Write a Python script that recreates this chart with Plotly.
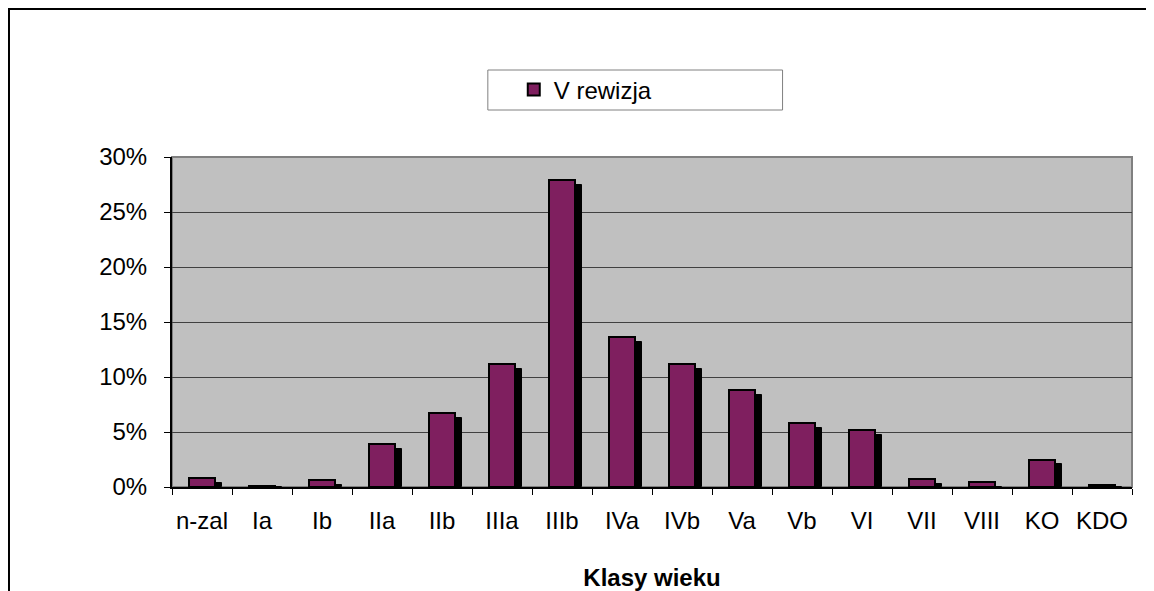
import plotly.graph_objects as go

# age classes and share of area (%)
CLASSES = ["n-zal", "Ia", "Ib", "IIa", "IIb", "IIIa", "IIIb", "IVa",
           "IVb", "Va", "Vb", "VI", "VII", "VIII", "KO", "KDO"]
SHARE = [0.8, 0.05, 0.65, 3.9, 6.7, 11.15, 27.9, 13.6,
         11.15, 8.8, 5.8, 5.2, 0.7, 0.43, 2.5, 0.15]
Y_TICKS = [0, 5, 10, 15, 20, 25, 30]
SERIES = "V rewizja"

FONT = "Liberation Sans, Arial, sans-serif"
BAR = "#7f1f5f"
BAR_W = 0.42        # in category units (60px per category)
SHADOW_DX = 0.115   # shadow shift right, category units
SHADOW_DY = 0.45    # shadow drop, in % units

fig = go.Figure()
# black drop shadow behind each bar
fig.add_trace(go.Bar(x=CLASSES, y=[max(v - SHADOW_DY, 0) for v in SHARE],
                     width=BAR_W, offset=-BAR_W / 2 + SHADOW_DX,
                     marker=dict(color="black", line=dict(color="black", width=1)),
                     showlegend=False, hoverinfo="skip"))
fig.add_trace(go.Bar(x=CLASSES, y=SHARE, name=SERIES,
                     width=BAR_W, offset=-BAR_W / 2,
                     marker=dict(color=BAR, line=dict(color="black", width=2)),
                     hovertemplate="%{x}: %{y:.1f}%<extra></extra>"))

# outer chart frame (open at the bottom, like the cropped original)
fig.add_shape(type="path", xref="paper", yref="paper",
              path="M -0.1698,-0.4 L -0.1698,1.4485 L 1.0185,1.4485 L 1.0185,-0.4",
              line=dict(color="black", width=2))
# plot-area frame
fig.add_shape(type="rect", xref="paper", yref="paper", x0=0, x1=1, y0=0, y1=1,
              line=dict(color="#808080", width=2), layer="below")
# legend box
fig.add_shape(type="rect", xref="paper", yref="paper", x0=0.329, x1=0.636,
              y0=1.1424, y1=1.2636, line=dict(color="#808080", width=1),
              fillcolor="white")

# page body has an 8px margin, so the figure is sized to fit the window
fig.update_layout(
    width=1146, height=583, barmode="overlay", bargap=0,
    paper_bgcolor="white", plot_bgcolor="#c0c0c0",
    font=dict(family=FONT, size=24, color="black"),
    margin=dict(l=164, r=22, t=149, b=104),
    showlegend=True,
    legend=dict(x=0.356, xanchor="left", y=1.203, yanchor="middle",
                bgcolor="rgba(0,0,0,0)", borderwidth=0, itemwidth=30,
                font=dict(size=24)),
    xaxis=dict(showline=True, linecolor="black", linewidth=2, automargin=False,
               ticks="outside", tickson="boundaries", ticklen=6, tickcolor="black",
               tickangle=0, ticklabelstandoff=11,
               title=dict(text="<b>Klasy wieku</b>", standoff=36, font=dict(size=24))),
    yaxis=dict(range=[0, 30], tickvals=Y_TICKS, ticktext=[f"{v}%" for v in Y_TICKS],
               showline=True, linecolor="black", linewidth=2, automargin=False,
               ticks="outside", ticklen=6, tickcolor="black",
               ticklabelstandoff=12,
               showgrid=True, gridcolor="#404040", gridwidth=1, zeroline=False),
)

fig.write_html("out.html")
